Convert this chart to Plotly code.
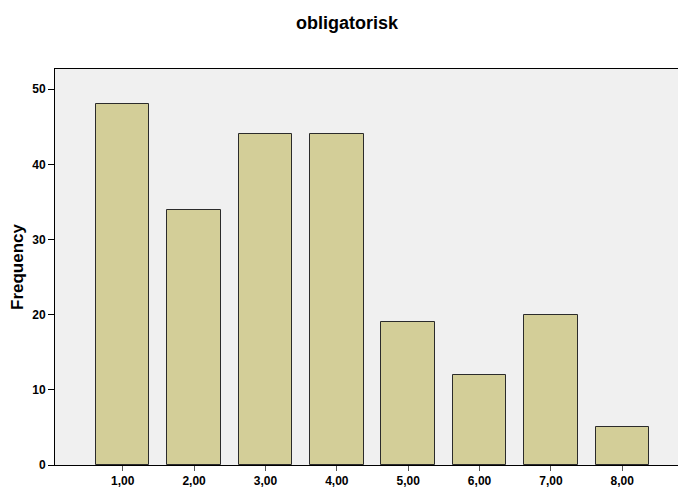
import plotly.graph_objects as go

categories = [1, 2, 3, 4, 5, 6, 7, 8]
tick_labels = ["1,00", "2,00", "3,00", "4,00", "5,00", "6,00", "7,00", "8,00"]
frequency = [48, 34, 44, 44, 19, 12, 20, 5]
y_ticks = [0, 10, 20, 30, 40, 50]

fig = go.Figure(go.Bar(
    x=categories, y=frequency, width=0.75,
    marker=dict(color="#d3ce98", line=dict(color="#2b2b2b", width=1)),
))

font_fam = "Liberation Sans, Arial, sans-serif"
fig.update_layout(
    width=678, height=480,
    margin=dict(l=47, r=1, t=61, b=23, autoexpand=False),
    paper_bgcolor="white", plot_bgcolor="#f0f0f0",
    title=dict(text="<b>obligatorisk</b>", x=0.5, xanchor="center", y=0.97, yanchor="middle",
               font=dict(family=font_fam, size=18, color="black")),
    showlegend=False,
    bargap=0,
)
fig.update_xaxes(
    range=[0.051, 8.879], tickmode="array", tickvals=categories, ticktext=tick_labels,
    showgrid=False, zeroline=False, showline=True, linecolor="black", linewidth=1, mirror=True,
    ticks="outside", ticklen=5, tickcolor="#555555",
    tickfont=dict(family=font_fam, size=12, color="black", weight="bold"),
)
fig.update_yaxes(
    range=[0, 52.7], tickmode="array", tickvals=y_ticks,
    showgrid=False, zeroline=False, showline=True, linecolor="black", linewidth=1, mirror=True,
    ticks="outside", ticklen=6, tickcolor="black",
    tickfont=dict(family=font_fam, size=12, color="black", weight="bold"),
    title=dict(text="<b>Frequency</b>", font=dict(family=font_fam, size=17, color="black"), standoff=12),
)
fig.write_html("out.html")
